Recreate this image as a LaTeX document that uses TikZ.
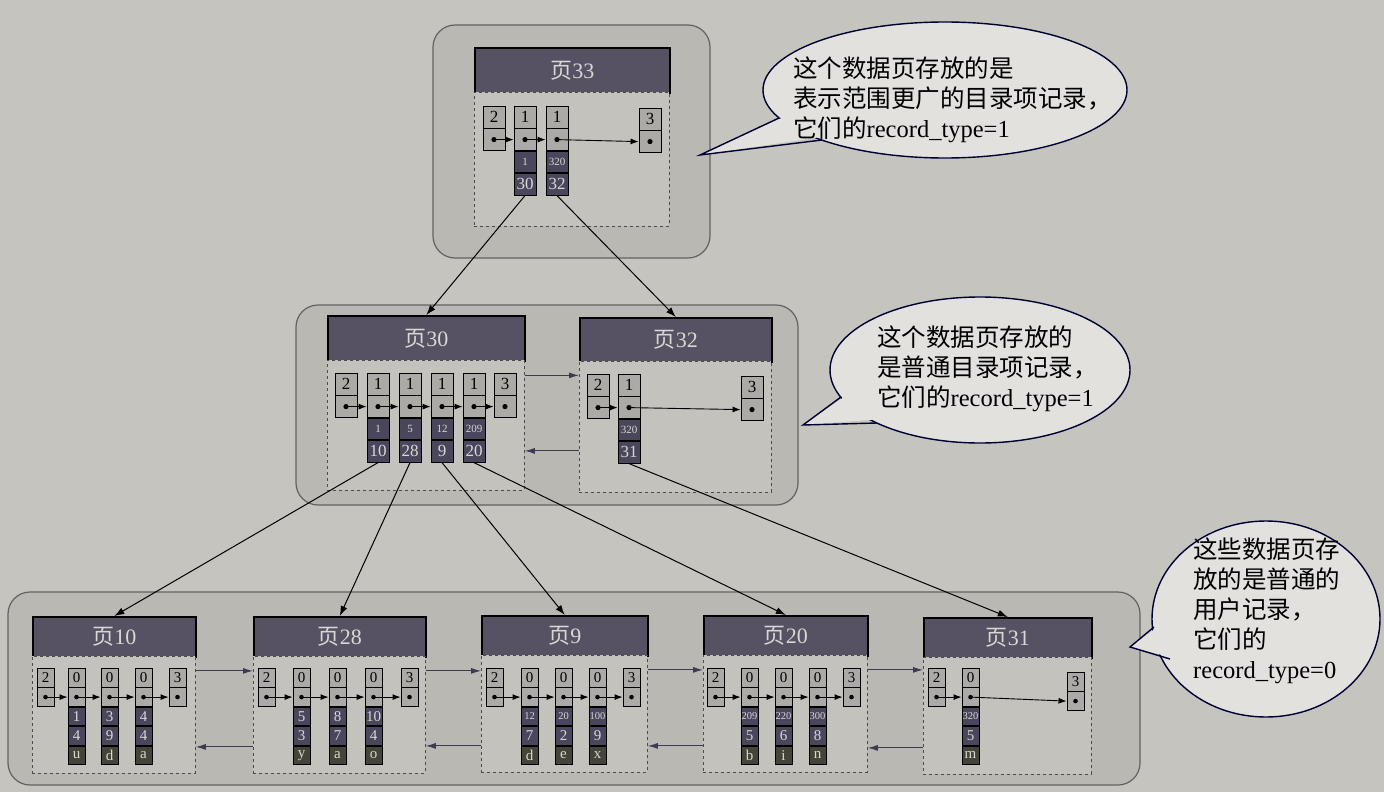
\documentclass[tikz,border=0pt]{standalone}
\usepackage{fontspec}
\setmainfont{Liberation Serif}
\newfontfamily\cjk{Noto Sans CJK SC}
\usetikzlibrary{arrows.meta,calc,shapes.geometric}
\definecolor{paper}{RGB}{198,196,190}
\definecolor{grpfill}{RGB}{186,184,179}
\definecolor{grpline}{RGB}{100,98,97}
\definecolor{bodyfill}{RGB}{196,194,189}
\definecolor{cellL}{RGB}{172,170,167}
\definecolor{cellD}{RGB}{74,70,92}
\definecolor{cellT}{RGB}{68,68,56}
\definecolor{hdr}{RGB}{86,82,100}
\definecolor{hdrtxt}{RGB}{218,215,212}
\definecolor{lnk}{RGB}{62,58,84}
\definecolor{bub}{RGB}{226,225,222}
\newcommand\fs[1]{\fontsize{#1}{#1}\selectfont}
\tikzset{
 cellbase/.style={draw=black,line width=0.9pt,inner sep=0pt,anchor=north},
 bc/.style={cellbase,fill=cellL,minimum width=22pt,minimum height=21.5pt,font=\fs{17}},
 bd/.style={bc,fill=cellD,text=hdrtxt},
 bds/.style={bd,font=\fs{11}},
 lc/.style={cellbase,fill=cellL,minimum width=17pt,minimum height=18.5pt,font=\fs{15}},
 ld/.style={lc,fill=cellD,text=hdrtxt},
 lds/.style={ld,font=\fs{10.5}},
 lt/.style={lc,fill=cellT,text=hdrtxt},
 hd/.style={draw=black,line width=1.6pt,fill=hdr,text=hdrtxt,anchor=north west,inner sep=0pt,font=\fs{22}},
 body/.style={draw=black!70,dashed,line width=0.8pt,fill=bodyfill,anchor=north west,inner sep=0pt},
 grp/.style={draw=grpline,line width=1.2pt,fill=grpfill,rounded corners=22pt},
 chain/.style={-{Latex[length=8pt,width=6pt]},line width=0.9pt},
 tree/.style={-{Latex[length=10pt,width=7pt]},line width=1pt},
 link/.style={-{Latex[length=10pt,width=6pt]},line width=1pt,draw=lnk},
 callout/.style={ellipse,draw=black!80!blue,line width=1.4pt,fill=bub,inner sep=0pt},
 tail/.style={line width=1.4pt,draw=black!80!blue},
 ctext/.style={align=left,anchor=north west,inner sep=0pt,font=\fontsize{24.5}{30}\selectfont}
}
\newcommand\brec[6]{%
 \node[bc] (#1a) at (#2+11,#3) {#4};
 \node[bc] (#1d) at (#1a.south) {};
 \node[bds] (#1k) at (#1d.south) {#5};
 \node[bd] (#1p) at (#1k.south) {#6};
 \fill (#1d.center) circle (2.6pt);}
\newcommand\bend[4]{%
 \node[bc] (#1a) at (#2+11,#3) {#4};
 \node[bc] (#1d) at (#1a.south) {};
 \fill (#1d.center) circle (2.6pt);}
\newcommand\lrec[6]{%
 \node[lc] (#1a) at (#2+8.5,668) {0};
 \node[lc] (#1d) at (#1a.south) {};
 \node[#6] (#1k) at (#1d.south) {#3};
 \node[ld] (#1v) at (#1k.south) {#4};
 \node[lt] (#1t) at (#1v.south) {#5};
 \fill (#1d.center) circle (2.3pt);}
\newcommand\lend[3]{%
 \node[lc] (#1a) at (#2+8.5,668) {#3};
 \node[lc] (#1d) at (#1a.south) {};
 \fill (#1d.center) circle (2.3pt);}
\begin{document}
\begin{tikzpicture}[x=1pt,y=-1pt]
\useasboundingbox (0,0) rectangle (1384,792);
\fill[paper] (0,0) rectangle (1384,792);
\draw[grp] (433,25) rectangle (710,258);
\draw[grp] (296,305) rectangle (798,505);
\draw[grp] (8,592) rectangle (1140,785);

% ===== page 33 =====
\node[hd,minimum width=195pt,minimum height=45pt] (h33) at (474,47) {{\cjk 页}33};
\node[body,minimum width=195pt,minimum height=134pt] (b33) at (474,92) {};
\bend{t0}{483}{106}{2}
\brec{t1}{514}{106}{1}{1}{30}
\brec{t2}{546}{106}{1}{320}{32}
\bend{t3}{639}{108}{3}
\draw[chain] (t0d.center) -- (t1d.west);
\draw[chain] (t1d.center) -- (t2d.west);
\draw[chain] (t2d.center) -- (t3d.west);

% ===== page 30 =====
\node[hd,minimum width=197pt,minimum height=45pt] (h30) at (327,315) {{\cjk 页}30};
\node[body,minimum width=197pt,minimum height=130pt] (b30) at (327,360) {};
\bend{m0}{335}{373}{2}
\brec{m1}{367}{373}{1}{1}{10}
\brec{m2}{399}{373}{1}{5}{28}
\brec{m3}{431}{373}{1}{12}{9}
\brec{m4}{463}{373}{1}{209}{20}
\bend{m5}{494}{373}{3}
\foreach \a/\b in {m0/m1,m1/m2,m2/m3,m3/m4,m4/m5} \draw[chain] (\a d.center) -- (\b d.west);

% ===== page 32 =====
\node[hd,minimum width=192pt,minimum height=44pt] (h32) at (579,317) {{\cjk 页}32};
\node[body,minimum width=192pt,minimum height=131pt] (b32) at (579,361) {};
\bend{n0}{587}{374}{2}
\brec{n1}{618}{374}{1}{320}{31}
\bend{n2}{741}{376}{3}
\draw[chain] (n0d.center) -- (n1d.west);
\draw[chain] (n1d.center) -- (n2d.west);
\draw[link] ([yshift=50pt]b30.east) -- ([yshift=50pt]b30.east -| b32.west);
\draw[link] ([yshift=-24pt]b32.west) -- ([yshift=-24pt]b32.west -| b30.east);

% ===== leaf pages =====
\node[hd,minimum width=163pt,minimum height=40pt] (h10) at (32,616) {{\cjk 页}10};
\node[body,minimum width=163pt,minimum height=117pt] (b10) at (32,656) {};
\lend{a0}{37}{2}
\lrec{a1}{68}{1}{4}{u}{ld}
\lrec{a2}{101}{3}{9}{d}{ld}
\lrec{a3}{135}{4}{4}{a}{ld}
\lend{a4}{169}{3}

\node[hd,minimum width=172pt,minimum height=40pt] (h28) at (253,616) {{\cjk 页}28};
\node[body,minimum width=172pt,minimum height=117pt] (b28) at (253,656) {};
\lend{b0}{258}{2}
\lrec{b1}{293}{5}{3}{y}{ld}
\lrec{b2}{329}{8}{7}{a}{ld}
\lrec{b3}{365}{10}{4}{o}{ld}
\lend{b4}{401}{3}

\node[hd,minimum width=166pt,minimum height=40pt] (h9) at (481,615) {{\cjk 页}9};
\node[body,minimum width=166pt,minimum height=117pt] (b9) at (481,655) {};
\lend{c0}{486}{2}
\lrec{c1}{521}{12}{7}{d}{lds}
\lrec{c2}{555}{20}{2}{e}{lds}
\lrec{c3}{589}{100}{9}{x}{lds}
\lend{c4}{623}{3}

\node[hd,minimum width=164pt,minimum height=40pt] (h20) at (703,615) {{\cjk 页}20};
\node[body,minimum width=164pt,minimum height=117pt] (b20) at (703,655) {};
\lend{d0}{707}{2}
\lrec{d1}{741}{209}{5}{b}{lds}
\lrec{d2}{775}{220}{6}{i}{lds}
\lrec{d3}{809}{300}{8}{n}{lds}
\lend{d4}{843}{3}

\node[hd,minimum width=168pt,minimum height=40pt] (h31) at (923,617) {{\cjk 页}31};
\node[body,minimum width=168pt,minimum height=117pt] (b31) at (923,657) {};
\lend{e0}{928}{2}
\lrec{e1}{962}{320}{5}{m}{lds}
\node[lc] (e2a) at (1067+8.5,672) {3};
\node[lc] (e2d) at (e2a.south) {};
\fill (e2d.center) circle (2.3pt);

\foreach \p in {a,b,c,d}{
  \draw[chain] (\p0d.center) -- (\p1d.west);
  \draw[chain] (\p1d.center) -- (\p2d.west);
  \draw[chain] (\p2d.center) -- (\p3d.west);
  \draw[chain] (\p3d.center) -- (\p4d.west);}
\draw[chain] (e0d.center) -- (e1d.west);
\draw[chain] (e1d.center) -- (e2d.west);

\foreach \l/\r in {b10/b28,b28/b9,b9/b20,b20/b31}{
  \draw[link] ([yshift=44pt]\l.east) -- ([yshift=44pt]\l.east -| \r.west);
  \draw[link] ([yshift=-32pt]\r.west) -- ([yshift=-32pt]\r.west -| \l.east);}

% tree arrows
\draw[tree] (t1p.south) -- (h30.north);
\draw[tree] (t2p.south) -- (h32.north);
\draw[tree] (m1p.south) -- (h10.north);
\draw[tree] (m2p.south) -- (h28.north);
\draw[tree] (m3p.south) -- (h9.north);
\draw[tree] (m4p.south) -- (h20.north);
\draw[tree] (n1p.south) -- (h31.north);

% callouts
\node[callout,minimum width=364pt,minimum height=136pt] (c1) at (945,90) {};
\coordinate (c1t) at (700,155);
\fill[bub] (c1t) -- (786,116) -- (828,136) -- cycle;
\draw[tail] (779,118) -- (c1t) -- (822,140);
\node[ctext] at (793,57) {{\cjk 这个数据页存放的是}\\{\cjk 表示范围更广的目录项记录，}\\{\cjk 它们的}record\_type=1};

\node[callout,minimum width=300pt,minimum height=146pt] (c2) at (980,370) {};
\coordinate (c2t) at (803,425);
\fill[bub] (c2t) -- (847,395) -- (882,419) -- cycle;
\draw[tail] (841,397) -- (c2t) -- (877,423);
\node[ctext] at (877,326) {{\cjk 这个数据页存放的}\\{\cjk 是普通目录项记录，}\\{\cjk 它们的}record\_type=1};

\node[callout,minimum width=228pt,minimum height=196pt] (c3) at (1266,619) {};
\coordinate (c3t) at (1130,647);
\fill[bub] (c3t) -- (1160,625) -- (1174,658) -- cycle;
\draw[tail] (1154,627) -- (c3t) -- (1170,659);
\node[ctext] at (1193,538) {{\cjk 这些数据页存}\\{\cjk 放的是普通的}\\{\cjk 用户记录，}\\{\cjk 它们的}\\record\_type=0};
\end{tikzpicture}
\end{document}
